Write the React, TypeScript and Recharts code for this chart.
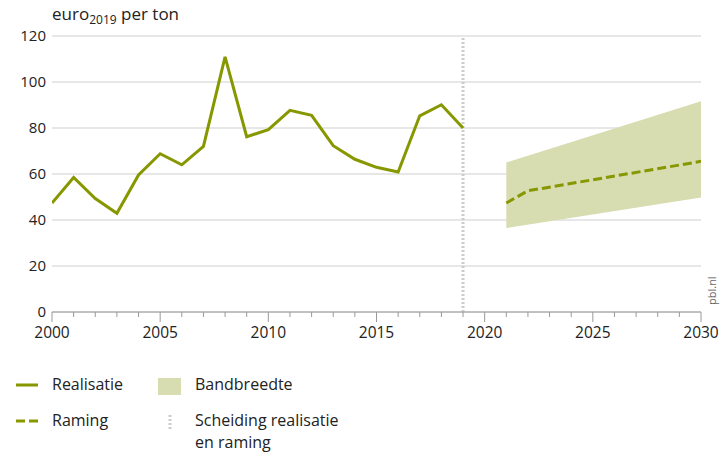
import { Area, CartesianGrid, ComposedChart, Line, ReferenceLine, XAxis, YAxis } from "recharts";

// realisatie, euro2019 per ton
const years = [2000, 2001, 2002, 2003, 2004, 2005, 2006, 2007, 2008, 2009, 2010, 2011, 2012, 2013, 2014, 2015, 2016, 2017, 2018, 2019];
const realisatie = [47.4, 58.5, 49.3, 42.9, 59.6, 68.8, 64.0, 72.0, 110.9, 76.2, 79.3, 87.7, 85.5, 72.3, 66.4, 62.9, 60.9, 85.3, 90.1, 80.0];

// raming
const ramingYears = [2021, 2022, 2030];
const raming = [47.4, 52.7, 65.5];

// bandbreedte
const bandYears = [2021, 2030];
const bandLow = [36.5, 49.8];
const bandHigh = [65.0, 91.6];

const xTicks = Array.from({ length: 31 }, (_, i) => 2000 + i);
const yTicks = [0, 20, 40, 60, 80, 100, 120];
const splitYear = 2019;

const OLIVE = "#879700";
const BAND = "#d7dcb1";
const GRID = "#cfcfcf";
const TEXT = "#222";
const FONT = "'Open Sans', sans-serif";

const realData = years.map((year, i) => ({ year, value: realisatie[i] }));
const ramingData = ramingYears.map((year, i) => ({ year, value: raming[i] }));
const bandData = bandYears.map((year, i) => ({ year, range: [bandLow[i], bandHigh[i]] }));

function YearTick({ x, y, payload }: any) {
  const major = payload.value % 5 === 0;
  return (
    <g>
      <line x1={x} x2={x} y1={y} y2={y + (major ? 10 : 5)} stroke="#9a9a9a" strokeWidth={1} />
      {major ? (
        <text x={x} y={y + 26} textAnchor="middle" fontSize={15.5} fill={TEXT} fontFamily={FONT}>
          {payload.value}
        </text>
      ) : null}
    </g>
  );
}

export default function App() {
  return (
    <div style={{ position: "relative", width: 726, height: 452, fontFamily: FONT, color: TEXT }}>
      <style>{"body{margin:0}"}</style>
      <div style={{ position: "absolute", left: 52, top: 2, fontSize: 17 }}>
        euro<sub style={{ fontSize: 12 }}>2019</sub> per ton
      </div>
      <ComposedChart width={726} height={345} margin={{ top: 36, right: 25, bottom: 0, left: 0 }}>
        <CartesianGrid vertical={false} stroke={GRID} />
        <XAxis
          dataKey="year"
          type="number"
          domain={[2000, 2030]}
          ticks={xTicks}
          interval={0}
          allowDataOverflow
          height={33}
          stroke="#9a9a9a"
          tickLine={false}
          tickSize={0}
          tickMargin={0}
          tick={<YearTick />}
        />
        <YAxis
          domain={[0, 120]}
          ticks={yTicks}
          width={52}
          axisLine={false}
          tickLine={false}
          tickSize={0}
          tickMargin={6}
          tick={{ fontSize: 15, fill: TEXT, fontFamily: FONT }}
        />
        <Area
          data={bandData}
          dataKey="range"
          type="linear"
          stroke="none"
          fill={BAND}
          fillOpacity={1}
          isAnimationActive={false}
        />
        <ReferenceLine x={splitYear} stroke="#cccccc" strokeWidth={3} strokeDasharray="2 2" />
        <Line
          data={realData}
          dataKey="value"
          type="linear"
          stroke={OLIVE}
          strokeWidth={3}
          dot={false}
          isAnimationActive={false}
        />
        <Line
          data={ramingData}
          dataKey="value"
          type="linear"
          stroke={OLIVE}
          strokeWidth={3}
          strokeDasharray="9 4"
          dot={false}
          isAnimationActive={false}
        />
      </ComposedChart>
      <div
        style={{
          position: "absolute",
          left: 704,
          top: 305,
          fontSize: 11,
          color: "#666",
          transform: "rotate(-90deg)",
          transformOrigin: "0 0",
          whiteSpace: "nowrap",
        }}
      >
        pbl.nl
      </div>
      {/* legenda */}
      <svg width={200} height={70} style={{ position: "absolute", left: 0, top: 370 }}>
        <line x1={16} x2={38} y1={15} y2={15} stroke={OLIVE} strokeWidth={3} />
        <line x1={16} x2={38} y1={51} y2={51} stroke={OLIVE} strokeWidth={3} strokeDasharray="9 4" />
        <rect x={158} y={8} width={23} height={17} fill={BAND} />
        <line x1={170} x2={170} y1={45} y2={60} stroke="#cccccc" strokeWidth={3} strokeDasharray="2 2" />
      </svg>
      <div style={{ position: "absolute", left: 52, top: 373, fontSize: 16, lineHeight: "22px" }}>Realisatie</div>
      <div style={{ position: "absolute", left: 195, top: 373, fontSize: 16, lineHeight: "22px" }}>Bandbreedte</div>
      <div style={{ position: "absolute", left: 52, top: 409, fontSize: 16, lineHeight: "22px" }}>Raming</div>
      <div style={{ position: "absolute", left: 195, top: 409, fontSize: 16, lineHeight: "22px" }}>
        Scheiding realisatie
        <br />
        en raming
      </div>
    </div>
  );
}
